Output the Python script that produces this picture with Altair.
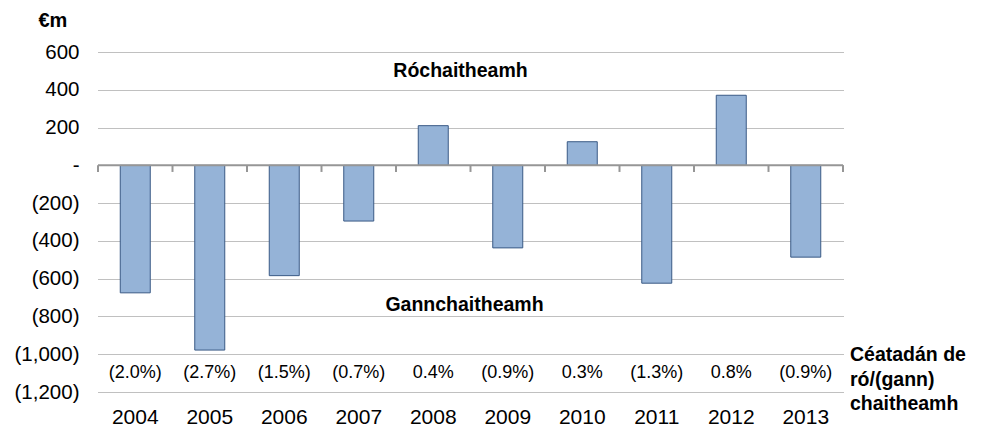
import altair as alt
import pandas as pd

years = ["2004", "2005", "2006", "2007", "2008", "2009", "2010", "2011", "2012", "2013"]
values = [-675, -978, -584, -295, 210, -437, 125, -624, 371, -486]
pct_labels = ["(2.0%)", "(2.7%)", "(1.5%)", "(0.7%)", "0.4%", "(0.9%)", "0.3%", "(1.3%)", "0.8%", "(0.9%)"]
y_ticks = [600, 400, 200, 0, -200, -400, -600, -800, -1000, -1200]

FONT = "Liberation Sans, Arial"
W, H = 745, 340

df = pd.DataFrame({"year": years, "value": values, "pct": pct_labels, "pct_y": [-1100] * len(years)})

x_scale = alt.Scale(domain=years, paddingInner=0, paddingOuter=0)
y_scale = alt.Scale(domain=[-1200, 600], nice=False, zero=False)

label_expr = ("datum.value == 0 ? '-' : (datum.value < 0 ? '(' + format(-datum.value, ',') + ')' "
              ": format(datum.value, ','))")

X_AXIS = alt.Axis(title=None, domain=False, ticks=False, labelAngle=0,
                  labelFontSize=21, labelFont=FONT, labelColor="#000000",
                  labelPadding=14, grid=False, labelOverlap=False)
Y_AXIS = alt.Axis(values=y_ticks, labelExpr=label_expr, domain=False, ticks=False,
                  labelFontSize=20.5, labelFont=FONT, labelColor="#000000",
                  labelPadding=19, labelOverlap=False, labelBound=False,
                  grid=True, gridDash=[1, 1], gridColor="#808080",
                  gridWidth=1, title="€m", titleAngle=0, titleAlign="left",
                  titleBaseline="middle", titleX=-60, titleY=-32,
                  titleFontSize=20, titleFont=FONT, titleFontWeight="bold",
                  titleColor="#000000")


def xenc(field="year:N", **kw):
    return alt.X(field, scale=x_scale, sort=years, axis=X_AXIS, **kw)


def yenc(field):
    return alt.Y(field, scale=y_scale, axis=Y_AXIS)


base = alt.Chart(df)

bars = base.mark_bar(width=30, fill="#95B3D7", stroke="#3A5A85", strokeWidth=1).encode(
    x=xenc(),
    y=yenc("value:Q"),
)

zero_df = pd.DataFrame({"year": [years[0]], "z": [0]})
zero_line = alt.Chart(zero_df).mark_rule(color="#969696", strokeWidth=2).encode(
    y=yenc("z:Q")
)

tick_df = pd.DataFrame({"year": years, "top": [0] * len(years), "bot": [-35] * len(years)})
ticks_start = alt.Chart(tick_df).mark_rule(color="#969696", strokeWidth=2).encode(
    x=xenc(bandPosition=0),
    y=yenc("top:Q"),
    y2="bot:Q",
)
ticks_end = alt.Chart(tick_df[tick_df.year == years[-1]]).mark_rule(color="#969696", strokeWidth=2).encode(
    x=xenc(bandPosition=1),
    y=yenc("top:Q"),
    y2="bot:Q",
)

pct_text = base.mark_text(fontSize=18, font=FONT, color="#000000", baseline="middle").encode(
    x=xenc(),
    y=yenc("pct_y:Q"),
    text="pct:N",
)

ann_df = pd.DataFrame({
    "year": ["2008", "2008"],
    "yv": [499, -741],
    "label": ["Róchaitheamh", "Gannchaitheamh"],
})
ann1 = alt.Chart(ann_df.iloc[[0]]).mark_text(fontSize=19.5, font=FONT, fontWeight="bold",
                                             color="#000000", baseline="middle", dx=-10).encode(
    x=xenc(bandPosition=1),
    y=yenc("yv:Q"),
    text="label:N",
)
ann2 = alt.Chart(ann_df.iloc[[1]]).mark_text(fontSize=19.5, font=FONT, fontWeight="bold",
                                             color="#000000", baseline="middle", dx=-6).encode(
    x=xenc(bandPosition=1),
    y=yenc("yv:Q"),
    text="label:N",
)

side_df = pd.DataFrame({"yv": [-1006], "label": ["Céatadán de\nró/(gann)\nchaitheamh"]})
side = alt.Chart(side_df).mark_text(fontSize=19.5, font=FONT, fontWeight="bold", color="#000000",
                                    align="left", baseline="middle", lineBreak="\n",
                                    lineHeight=24.5).encode(
    x=alt.value(W + 7),
    y=yenc("yv:Q"),
    text="label:N",
)

chart = alt.layer(bars, zero_line, ticks_start, ticks_end, pct_text, ann1, ann2, side).properties(
    width=W, height=H,
    background="#ffffff",
    autosize=alt.AutoSizeParams(type="none"),
    padding={"left": 90, "top": 44, "right": 131, "bottom": 35},
).configure_view(strokeWidth=0)

chart.save("out.html", embed_options={"renderer": "svg", "actions": False})
